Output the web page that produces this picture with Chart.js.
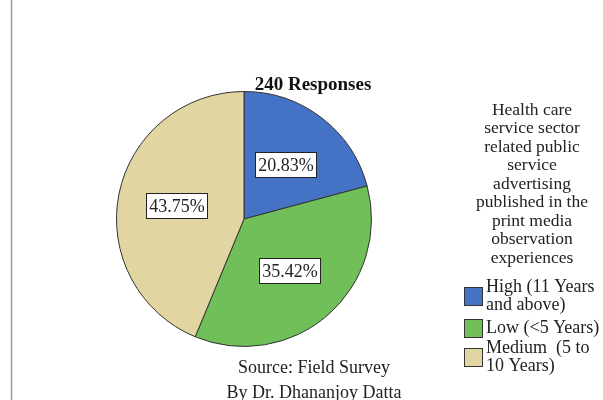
<!DOCTYPE html>
<html>
<head>
<meta charset="utf-8">
<script src="https://cdn.jsdelivr.net/npm/chart.js@4"></script>
<style>
  html, body { margin: 0; padding: 0; background: #fff; }
  #wrap { width: 603px; height: 400px; position: relative; }
</style>
</head>
<body>
<div id="wrap"><canvas id="pieChart" width="603" height="400"></canvas></div>
<script>
// Data pengalaman observasi iklan layanan publik sektor kesehatan
const categories = ['High (11 Years\nand above)', 'Low (<5 Years)', 'Medium  (5 to\n10 Years)'];
const shares = [20.83, 35.42, 43.75];
const sliceColors = ['#4472c4', '#70bf59', '#e1d5a1'];
const legendTitle = ['Health care', 'service sector', 'related public', 'service', 'advertising',
  'published in the', 'print media', 'observation', 'experiences'];
const chartTitle = '240 Responses';
const footerLines = ['Source: Field Survey', 'By Dr. Dhananjoy Datta'];

const serif = '"Liberation Serif", "DejaVu Serif", serif';

// posisi kotak legend (atas) dan jarak baris
const legendBoxTop = [287, 319, 348];
const legendLineGap = 18;

// Label persen dalam kotak putih + legend + teks sumber
const decorPlugin = {
  id: 'decor',
  afterDraw(chart) {
    const ctx = chart.ctx;
    ctx.save();

    // garis bingkai kiri
    ctx.strokeStyle = '#9a9a9a';
    ctx.lineWidth = 1.5;
    ctx.beginPath();
    ctx.moveTo(11.5, 0);
    ctx.lineTo(11.5, 400);
    ctx.stroke();

    ctx.fillStyle = '#111';
    ctx.textAlign = 'center';
    ctx.textBaseline = 'middle';
    ctx.font = 'bold 19px ' + serif;
    ctx.fillText(chartTitle, 313, 85);

    // label persen tiap slice
    const meta = chart.getDatasetMeta(0);
    ctx.font = '18px ' + serif;
    meta.data.forEach((arc, i) => {
      const mid = (arc.startAngle + arc.endAngle) / 2;
      const r = arc.outerRadius * 0.54;
      const x = arc.x + Math.cos(mid) * r;
      const y = arc.y + Math.sin(mid) * r;
      const txt = shares[i].toFixed(2) + '%';
      const w = Math.round(ctx.measureText(txt).width + 6);
      const h = 25;
      const bx = Math.round(x - w / 2) + 0.5;
      const by = Math.round(y - h / 2) + 0.5;
      ctx.fillStyle = '#fff';
      ctx.fillRect(bx, by, w, h);
      ctx.strokeStyle = '#222';
      ctx.lineWidth = 1;
      ctx.strokeRect(bx, by, w, h);
      ctx.fillStyle = '#222';
      ctx.fillText(txt, bx + w / 2, by + h / 2 + 1);
    });

    // judul legend
    ctx.fillStyle = '#222';
    ctx.font = '17.5px ' + serif;
    legendTitle.forEach((line, i) => ctx.fillText(line, 532, 110 + i * 18.5));

    // item legend
    ctx.textAlign = 'left';
    ctx.font = '18px ' + serif;
    categories.forEach((label, i) => {
      const top = legendBoxTop[i];
      const lines = label.split('\n');
      ctx.fillStyle = sliceColors[i];
      ctx.fillRect(464, top, 18, 18);
      ctx.strokeStyle = '#333';
      ctx.lineWidth = 1;
      ctx.strokeRect(464.5, top + 0.5, 18, 18);
      ctx.fillStyle = '#222';
      const firstY = lines.length > 1 ? top : top + 9;
      lines.forEach((ln, j) => ctx.fillText(ln, 486, firstY + j * legendLineGap));
    });

    // teks sumber
    ctx.textAlign = 'center';
    ctx.font = '18px ' + serif;
    footerLines.forEach((ln, i) => ctx.fillText(ln, 314, 368 + i * 25));
    ctx.restore();
  }
};

new Chart(document.getElementById('pieChart'), {
  type: 'pie',
  data: {
    labels: categories,
    datasets: [{
      data: shares,
      backgroundColor: sliceColors,
      borderColor: '#333',
      borderWidth: 1
    }]
  },
  options: {
    responsive: false,
    animation: false,
    layout: { padding: { left: 116, right: 231, top: 91, bottom: 53 } },
    plugins: {
      legend: { display: false },
      tooltip: { enabled: false }
    }
  },
  plugins: [decorPlugin]
});
</script>
</body>
</html>
